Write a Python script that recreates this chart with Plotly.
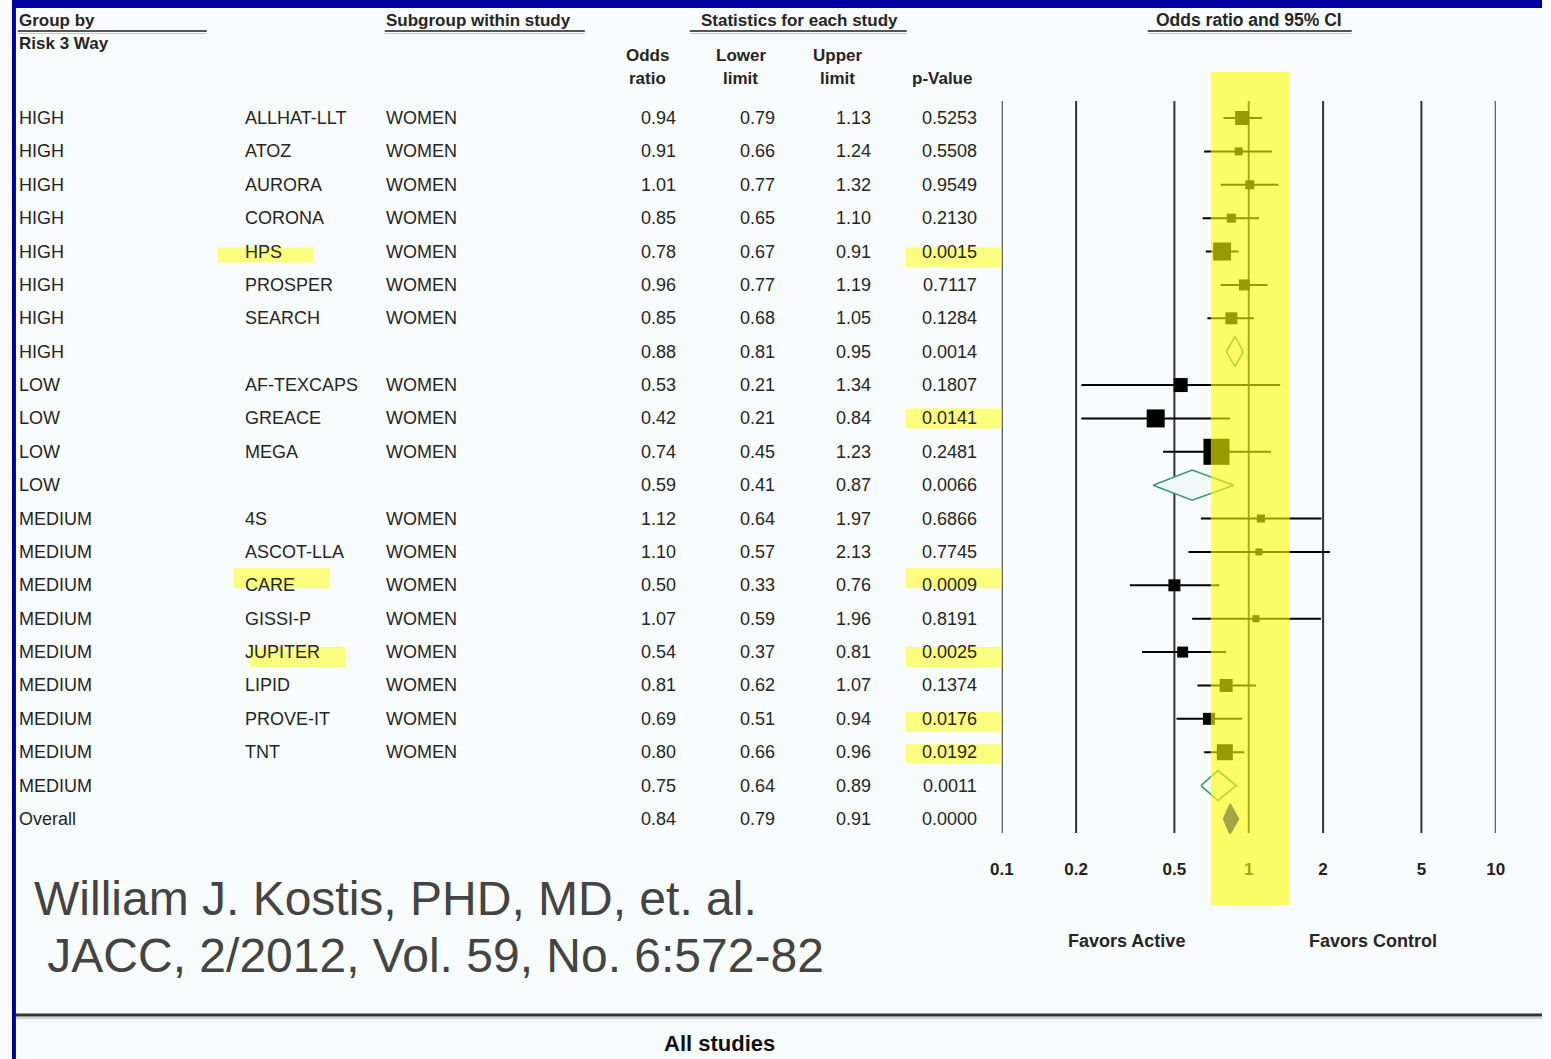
import plotly.graph_objects as go

# ---------------- data ----------------
groups = ["HIGH"] * 8 + ["LOW"] * 4 + ["MEDIUM"] * 9 + ["Overall"]
studies = ["ALLHAT-LLT", "ATOZ", "AURORA", "CORONA", "HPS", "PROSPER", "SEARCH", "",
           "AF-TEXCAPS", "GREACE", "MEGA", "",
           "4S", "ASCOT-LLA", "CARE", "GISSI-P", "JUPITER", "LIPID", "PROVE-IT", "TNT", "",
           ""]
subgroups = ["WOMEN" if s else "" for s in studies]
odds_ratio = [0.94, 0.91, 1.01, 0.85, 0.78, 0.96, 0.85, 0.88,
              0.53, 0.42, 0.74, 0.59,
              1.12, 1.10, 0.50, 1.07, 0.54, 0.81, 0.69, 0.80, 0.75,
              0.84]
lower_limit = [0.79, 0.66, 0.77, 0.65, 0.67, 0.77, 0.68, 0.81,
               0.21, 0.21, 0.45, 0.41,
               0.64, 0.57, 0.33, 0.59, 0.37, 0.62, 0.51, 0.66, 0.64,
               0.79]
upper_limit = [1.13, 1.24, 1.32, 1.10, 0.91, 1.19, 1.05, 0.95,
               1.34, 0.84, 1.23, 0.87,
               1.97, 2.13, 0.76, 1.96, 0.81, 1.07, 0.94, 0.96, 0.89,
               0.91]
p_values = ["0.5253", "0.5508", "0.9549", "0.2130", "0.0015", "0.7117", "0.1284", "0.0014",
            "0.1807", "0.0141", "0.2481", "0.0066",
            "0.6866", "0.7745", "0.0009", "0.8191", "0.0025", "0.1374", "0.0176", "0.0192", "0.0011",
            "0.0000"]
# relative weight of each study (marker size, px)
weights = [14, 8, 9, 9, 18, 11, 12, 0,
           14, 18, 26, 0,
           8, 7, 12, 7, 11, 13, 12, 16, 0,
           0]
tick_vals = [0.1, 0.2, 0.5, 1, 2, 5, 10]
tick_text = ["0.1", "0.2", "0.5", "1", "2", "5", "10"]
name_highlight_rows = [4, 14, 16]
p_highlight_rows = [4, 9, 14, 16, 18, 19]

# ---------------- layout helpers ----------------
W, H = 1551, 1059
ROW0, ROWH = 118, 33.38
FONT = "Liberation Sans, Arial, sans-serif"
TXT = "#262626"


def row_of(p):
    return (p - ROW0) / ROWH


def X(p):
    # horizontal pixel target -> paper fraction (small calibration)
    return max((p - 12.2) / 0.9865, 0) / W


def pxy(y):
    return 1 - y / H


rows = list(range(len(groups)))
fig = go.Figure()

# vertical reference lines at tick values
top_r, bot_r = row_of(101), row_of(833)
vx, vy = [], []
for v in tick_vals:
    vx += [v, v, None]
    vy += [top_r, bot_r, None]
fig.add_trace(go.Scatter(x=vx, y=vy, mode="lines", line=dict(color="#333333", width=2),
                         hoverinfo="skip", showlegend=False))

# confidence intervals (studies)
cx, cy = [], []
for i in rows:
    if studies[i]:
        cx += [lower_limit[i], upper_limit[i], None]
        cy += [i, i, None]
fig.add_trace(go.Scatter(x=cx, y=cy, mode="lines", line=dict(color="#000000", width=2),
                         hoverinfo="skip", showlegend=False))

# study point estimates
si = [i for i in rows if studies[i]]
fig.add_trace(go.Scatter(x=[odds_ratio[i] for i in si], y=si, mode="markers",
                         marker=dict(symbol="square", size=[weights[i] for i in si],
                                     color="#000000", opacity=1, line=dict(width=0)),
                         hoverinfo="skip", showlegend=False))

# summary diamonds
HALF = 0.45
for i in rows:
    if studies[i]:
        continue
    overall = groups[i] == "Overall"
    fig.add_trace(go.Scatter(
        x=[lower_limit[i], odds_ratio[i], upper_limit[i], odds_ratio[i], lower_limit[i]],
        y=[i, i - HALF, i, i + HALF, i],
        mode="lines", fill="toself",
        fillcolor="#1c1cbc" if overall else "#f2fbf9",
        line=dict(color="#1c1cbc" if overall else "#3c9682", width=1.5),
        hoverinfo="skip", showlegend=False))

shapes = []
annotations = []

# blue slide frame
shapes.append(dict(type="rect", xref="paper", yref="paper", x0=0, x1=4 / W, y0=0, y1=1,
                   fillcolor="#0000a0", line=dict(width=0), layer="above"))
shapes.append(dict(type="rect", xref="paper", yref="paper", x0=0, x1=1, y0=pxy(8), y1=1,
                   fillcolor="#0000a0", line=dict(width=0), layer="above"))

# header underlines
for x0, x1 in [(18, 207), (385, 585), (690, 907), (1148, 1352)]:
    shapes.append(dict(type="line", xref="paper", yref="paper", x0=X(x0), x1=X(x1),
                       y0=pxy(31), y1=pxy(31), line=dict(color="#555555", width=2)))
    shapes.append(dict(type="line", xref="paper", yref="paper", x0=X(x0), x1=X(x1),
                       y0=pxy(33.5), y1=pxy(33.5), line=dict(color="#c8c8c8", width=1)))

# bottom separator
shapes.append(dict(type="line", xref="paper", yref="paper", x0=4 / W, x1=1,
                   y0=pxy(1015), y1=pxy(1015), line=dict(color="#333333", width=3)))
shapes.append(dict(type="line", xref="paper", yref="paper", x0=4 / W, x1=1,
                   y0=pxy(1018), y1=pxy(1018), line=dict(color="#aaaaaa", width=1)))

# big yellow highlight over the "1" line
shapes.append(dict(type="rect", xref="x", yref="y", x0=0.702, x1=1.466,
                   y0=row_of(72), y1=row_of(905), fillcolor="#ffff00", opacity=0.6,
                   line=dict(width=0), layer="above"))

# highlight marker boxes in the table
name_boxes = {4: (218, 314, -4, 11), 14: (234, 330, -17, 3), 16: (250, 346, -5, 15)}
for r in name_highlight_rows:
    x0, x1, d0, d1 = name_boxes[r]
    shapes.append(dict(type="rect", xref="paper", yref="y", x0=X(x0), x1=X(x1),
                       y0=r + d0 / ROWH, y1=r + d1 / ROWH, fillcolor="#ffff00", opacity=0.5,
                       line=dict(width=0), layer="above"))
p_offsets = {4: (-4, 16), 9: (-10, 10), 14: (-17, 3), 16: (-5, 15), 18: (-7, 13), 19: (-8, 11)}
for r in p_highlight_rows:
    d0, d1 = p_offsets[r]
    shapes.append(dict(type="rect", xref="paper", yref="y", x0=X(906), x1=X(1002),
                       y0=r + d0 / ROWH, y1=r + d1 / ROWH, fillcolor="#ffff00", opacity=0.5,
                       line=dict(width=0), layer="above"))


def txt(x, y, s, size=18, anchor="left", color=TXT, yref="paper", bold=False):
    if bold:
        s = "<b>" + s + "</b>"
    annotations.append(dict(x=X(x), y=y, xref="paper", yref=yref, text=s, showarrow=False,
                            xanchor=anchor, yanchor="middle", borderpad=0,
                            font=dict(family=FONT, size=size, color=color)))


# headers
txt(18, pxy(20), "Group by", 17, bold=True)
txt(18, pxy(43), "Risk 3 Way", 17, bold=True)
txt(385, pxy(20), "Subgroup within study", 17, bold=True)
txt(800, pxy(20), "Statistics for each study", 17, "center", bold=True)
txt(1249, pxy(20), "Odds ratio and 95% CI", 17.5, "center", bold=True)
for cxp, top, bottom in [(648, "Odds", "ratio"), (741, "Lower", "limit"), (838, "Upper", "limit")]:
    txt(cxp, pxy(56), top, 17, "center", bold=True)
    txt(cxp, pxy(79), bottom, 17, "center", bold=True)
txt(942, pxy(79), "p-Value", 17, "center", bold=True)

# table body
for i in rows:
    txt(18, i, groups[i], yref="y")
    if studies[i]:
        txt(244, i, studies[i], yref="y")
        txt(385, i, subgroups[i], yref="y")
    txt(677, i, f"{odds_ratio[i]:.2f}", anchor="right", yref="y")
    txt(776, i, f"{lower_limit[i]:.2f}", anchor="right", yref="y")
    txt(872, i, f"{upper_limit[i]:.2f}", anchor="right", yref="y")
    txt(978, i, p_values[i], anchor="right", yref="y")

# axis captions
txt(1127, pxy(941), "Favors Active", 18, "center", bold=True)
txt(1373, pxy(941), "Favors Control", 18, "center", bold=True)
txt(720, pxy(1043), "All studies", 22, "center", bold=True, color="#111111")

# citation
txt(33, pxy(898), "William J. Kostis, PHD, MD, et. al.", 48, color="#444444")
txt(33, pxy(955), " JACC, 2/2012, Vol. 59, No. 6:572-82", 48, color="#444444")

fig.update_layout(
    width=W, height=H, margin=dict(l=0, r=0, t=0, b=0),
    paper_bgcolor="#f9fcfc", plot_bgcolor="rgba(0,0,0,0)",
    showlegend=False, shapes=shapes, annotations=annotations,
    xaxis=dict(type="log", range=[-1, 1], domain=[X(1002), X(1496)],
               showgrid=False, zeroline=False, showline=False, ticks="",
               tickvals=tick_vals, ticktext=["<b>" + t + "</b>" for t in tick_text],
               tickfont=dict(family=FONT, size=17, color="#222222"),
               anchor="free", position=pxy(857)),
    yaxis=dict(range=[row_of(H), row_of(0)], domain=[0, 1], visible=False),
)

fig.write_html("out.html")
